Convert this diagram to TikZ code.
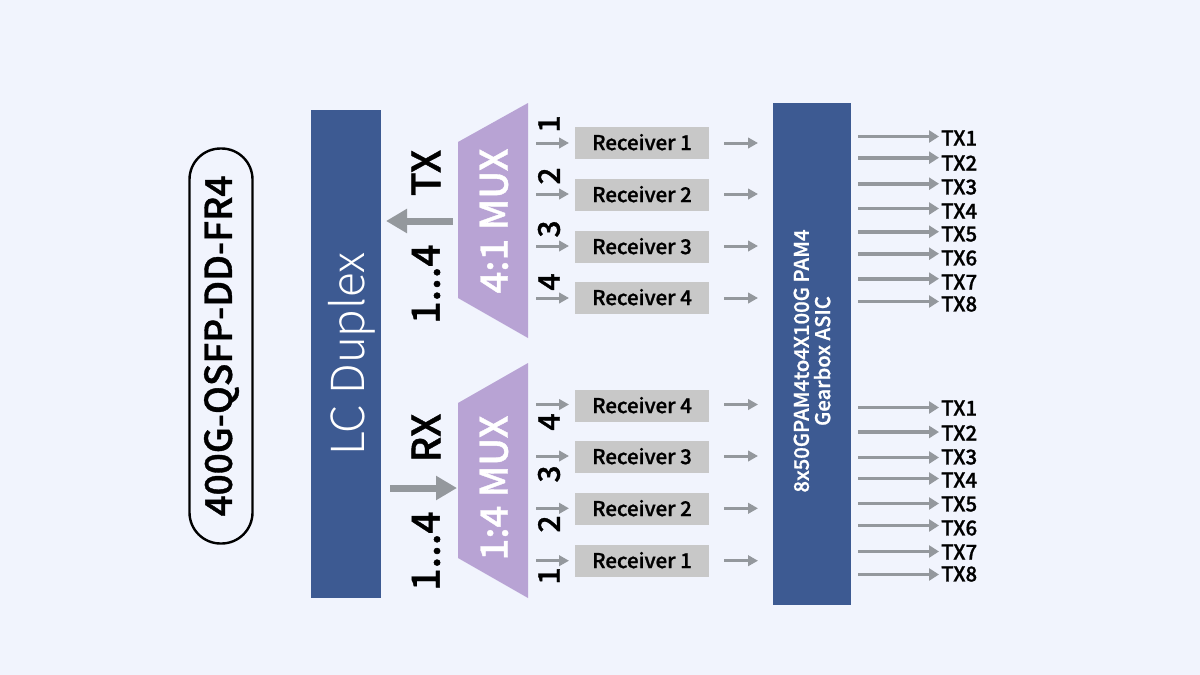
\documentclass[tikz,border=0pt]{standalone}
\usepackage{fontspec}
\setmainfont{Noto Sans CJK SC}
\newfontfamily\medf[FakeBold=1.0]{Noto Sans CJK SC Medium}
\newfontfamily\lightf{Noto Sans CJK SC Light}
\usetikzlibrary{arrows.meta}
\definecolor{bgc}{HTML}{F1F4FD}
\definecolor{bluec}{HTML}{3D5A92}
\definecolor{purplec}{HTML}{B8A3D4}
\definecolor{boxc}{HTML}{C8C8C8}
\definecolor{arrc}{HTML}{94989D}
\newcommand{\fs}[1]{\fontsize{#1pt}{#1pt}\selectfont}
\tikzset{
  bluebar/.style={fill=bluec,draw=none,inner sep=0pt,minimum width=#1},
  muxshape/.style={fill=purplec,draw=none},
  recv/.style={fill=boxc,draw=none,inner sep=0pt,minimum width=134pt,minimum height=32pt,font=\fs{20.5}\medf,text=black},
  smallarr/.style={draw=arrc,line width=3pt,-{Triangle[length=10pt,width=10.5pt]}},
  outarr/.style={draw=arrc,line width=3.8pt,-{Triangle[length=10pt,width=12pt]}},
  bigarr/.style={draw=arrc,line width=7pt,-{Triangle[length=21pt,width=23pt]}},
  vlabel/.style={rotate=90,inner sep=0pt,font=\fs{39}\medf,text=black},
  numlabel/.style={rotate=90,inner sep=0pt,font=\fs{30}\medf,text=black},
  muxlabel/.style={rotate=90,inner sep=0pt,font=\fs{38}\medf,text=white},
  txlabel/.style={anchor=west,inner sep=0pt,font=\fs{20.5}\medf,text=black},
}
\begin{document}
\begin{tikzpicture}[x=1pt,y=-1pt]
\useasboundingbox (0,0) rectangle (1200,675);
\fill[bgc] (0,0) rectangle (1200,675);
% title pill
\node[draw=black,line width=2.4pt,fill=bgc,rounded corners=31pt,minimum width=63pt,minimum height=395pt,inner sep=0pt] (pill) at (221,346) {};
\node[rotate=90,inner sep=0pt,font=\fs{37}\medf,text=black] (title) at (221.5,346) {400G-QSFP-DD-FR4};
% bars
\node[bluebar=70pt,minimum height=488pt] (lc) at (346,354) {};
\node[rotate=90,inner sep=0pt,font=\fs{45.5}\lightf,text=white] (lct) at (352,354) {LC Duplex};
\node[bluebar=78pt,minimum height=502pt] (asic) at (812,354) {};
\node[rotate=90,inner sep=0pt,align=center,font=\fs{20.3}\medf,text=white] (asict) at (812,361) {8x50GPAM4to4X100G PAM4\\[1pt]Gearbox ASIC};
% muxes
\fill[muxshape] (458,142) -- (528,103) -- (528,338) -- (458,298) -- cycle;
\fill[muxshape] (458,403) -- (528,363) -- (528,598) -- (458,558) -- cycle;
\node[muxlabel] (muxa) at (494,221) {4:1 MUX};
\node[muxlabel] (muxb) at (494,488) {1:4 MUX};
% TX / RX labels and thick arrows
\node[vlabel] (tx) at (426,173) {TX};
\node[vlabel] (txn) at (426,284) {1...4};
\node[vlabel] (rx) at (426,438) {RX};
\node[vlabel] (rxn) at (426,551) {1...4};
\coordinate (ta) at (453,221); \coordinate (tb) at (386,221);
\coordinate (ra) at (390,488); \coordinate (rb) at (457,488);
\draw[bigarr] (ta) -- (tb);
\draw[bigarr] (ra) -- (rb);
% receivers and their arrows
\foreach \i/\lab/\by/\ay/\ny/\nm in {
  a/Receiver 1/143/143/124/1,
  b/Receiver 2/195/194/176/2,
  c/Receiver 3/247/246/229/3,
  d/Receiver 4/298/298/282/4,
  e/Receiver 4/406/404.5/422/4,
  f/Receiver 3/457/456/474/3,
  g/Receiver 2/509/508.3/524/2,
  h/Receiver 1/561/560.7/576/1}{
  \node[recv] (r\i) at (642,\by) {\raisebox{2pt}{\lab}};
  \node[numlabel] (n\i) at (549,\ny) {\nm};
  \coordinate (la\i) at (536,\ay);
  \coordinate (lb\i) at (569,\ay);
  \coordinate (ma\i) at (724,\ay);
  \coordinate (mb\i) at (758,\ay);
  \draw[smallarr] (la\i) -- (lb\i);
  \draw[smallarr] (ma\i) -- (mb\i);
}
% output labels
\foreach \i/\lab/\ay/\ty in {
  1/TX1/136.5/138, 2/TX2/157.7/163, 3/TX3/183.7/187, 4/TX4/208.5/211,
  5/TX5/231.7/234, 6/TX6/253.7/258, 7/TX7/278.7/282, 8/TX8/301.5/304,
  9/TX1/407.5/408, 10/TX2/432/433, 11/TX3/457.5/457, 12/TX4/478.5/480,
  13/TX5/503.5/504, 14/TX6/525.5/528, 15/TX7/551.5/552, 16/TX8/574.5/574}{
  \node[txlabel] (t\i) at (941,\ty) {\lab};
  \coordinate (s\i) at (858,\ay);
  \draw[outarr] (s\i) -- (939,\ay);
}
\end{tikzpicture}
\end{document}
